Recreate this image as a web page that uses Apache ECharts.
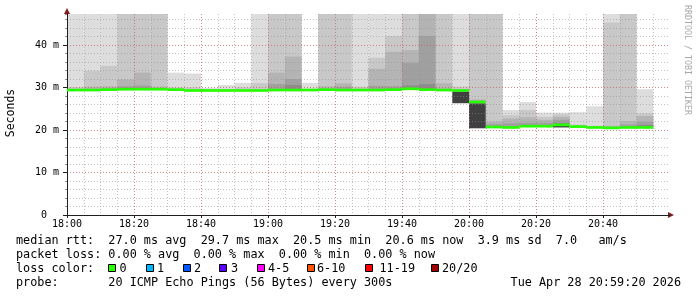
<!DOCTYPE html>
<html>
<head>
<meta charset="utf-8">
<script src="https://cdn.jsdelivr.net/npm/echarts@6/dist/echarts.min.js"></script>
<style>
html,body{margin:0;padding:0;background:#fff;}
#chart{width:697px;height:297px;}
</style>
</head>
<body>
<div id="chart"></div>
<script>
// ---- data ----
const barStart = ['18:00','18:05','18:10','18:15','18:20','18:25','18:30','18:35','18:40','18:45','18:50','18:55',
                  '19:00','19:05','19:10','19:15','19:20','19:25','19:30','19:35','19:40','19:45','19:50','19:55',
                  '20:00','20:05','20:10','20:15','20:20','20:25','20:30','20:35','20:40','20:45','20:50'];
const stepMin = 5;
// median rtt (ms)
const median = [29.4,29.4,29.5,29.6,29.6,29.6,29.5,29.3,29.3,29.3,29.3,29.3,
                29.4,29.4,29.4,29.5,29.4,29.4,29.4,29.5,29.7,29.5,29.4,29.3,
                26.6,20.7,20.6,20.9,20.9,21.2,20.8,20.6,20.5,20.6,20.6];
// smoke layers: upper edge (ms) of each grey band, lightest first
const smoke1 = [47.3,47.3,47.3,47.3,47.3,47.3,33.5,33.3,29.9,30.6,31.1,47.3,
                47.3,47.3,31.1,47.3,47.3,47.3,47.3,47.3,47.3,47.3,47.3,47.3,
                47.3,47.3,24.7,26.6,24.1,24.1,24.2,25.6,47.3,47.3,29.6];
const smoke2 = [30.1,33.9,35.1,47.3,47.3,47.3,30.0,30.0,null,null,30.0,31.0,
                47.3,47.3,null,47.3,47.3,30.2,37.0,42.1,47.3,47.3,47.3,30.2,
                47.3,47.3,23.5,24.7,23.1,23.7,21.3,21.0,45.3,47.3,23.9];
const smoke3 = [null,30.2,30.3,31.9,33.5,30.2,null,null,null,null,null,null,
                33.5,37.3,null,30.3,31.0,null,34.4,38.4,38.8,47.3,31.0,null,
                27.2,22.0,22.7,23.0,22.4,23.1,null,null,21.0,22.1,23.3];
const smoke4 = [null,null,null,30.3,30.5,null,null,null,null,null,null,null,
                30.8,32.0,null,null,30.2,null,30.4,30.3,35.8,42.1,null,null,
                null,21.4,21.6,21.7,21.7,22.4,null,null,null,21.3,21.9];
const smoke5 = [null,null,null,null,null,null,null,null,null,null,null,null,
                null,30.6,null,null,null,null,null,null,30.5,30.8,null,null,
                null,null,null,null,null,21.7,null,null,null,null,21.2];
// dense smoke below the median (ms): lower / upper edge
const denseLo = [null,null,null,null,null,null,null,null,null,null,null,null,
                 null,null,null,null,null,null,null,null,null,null,null,26.3,
                 20.4,null,null,null,null,20.6,null,null,null,null,null];
const denseHi = [null,null,null,null,null,null,null,null,null,null,null,null,
                 null,null,null,null,null,null,null,null,null,null,null,29.1,
                 26.3,null,null,null,null,21.0,null,null,null,null,null];

const xTickLabels = ['18:00','18:20','18:40','19:00','19:20','19:40','20:00','20:20','20:40'];
const yTickLabels = ['0  ','10 m','20 m','30 m','40 m'];
const yMax = 47.3;
const xMax = 180;

const lossLabels = ['0','1','2','3','4-5','6-10','11-19','20/20'];
const lossColors = ['#26ff00','#00b8ff','#0059ff','#5e00ff','#ff00ff','#ff5500','#ff0000','#a10000'];

// ---- build ----
function toMin(s){ const p = s.split(':'); return (+p[0])*60 + (+p[1]) - 18*60; }
const starts = barStart.map(toMin);

function bandData(tops){
  const out = [];
  tops.forEach((t,i)=>{ if(t!=null && t>median[i]) out.push([starts[i], starts[i]+stepMin, median[i], t]); });
  return out;
}
function denseData(){
  const out = [];
  denseLo.forEach((lo,i)=>{ if(lo!=null) out.push([starts[i], starts[i]+stepMin, lo, denseHi[i]]); });
  return out;
}
function rectRender(color){
  return function(params, api){
    const a = api.coord([api.value(0), api.value(3)]);
    const b = api.coord([api.value(1), api.value(2)]);
    return {type:'rect', shape:{x:a[0], y:a[1], width:b[0]-a[0], height:b[1]-a[1]}, style:{fill:color}};
  };
}
function smokeSeries(tops, color){
  return {type:'custom', xAxisIndex:1, yAxisIndex:1, z:2, silent:true,
          renderItem: rectRender(color), encode:{x:[0,1], y:[2,3]}, data: bandData(tops)};
}

const mono = '"DejaVu Sans Mono", monospace';
const minorGrid = 'rgba(143,143,143,0.55)';
const majorGrid = 'rgba(222,79,79,0.5)';

const series = [
  smokeSeries(smoke1, '#dddddd'),
  smokeSeries(smoke2, '#c8c8c8'),
  smokeSeries(smoke3, '#b4b4b4'),
  smokeSeries(smoke4, '#a0a0a0'),
  smokeSeries(smoke5, '#8c8c8c'),
  {type:'custom', xAxisIndex:1, yAxisIndex:1, z:2, silent:true,
   renderItem: rectRender('#404040'), encode:{x:[0,1], y:[2,3]}, data: denseData()},
  {type:'custom', xAxisIndex:1, yAxisIndex:1, z:10, silent:true,
   encode:{x:[0,1], y:2},
   data: median.map((m,i)=>[starts[i], starts[i]+stepMin, m]),
   renderItem: function(params, api){
     const a = api.coord([api.value(0), api.value(2)]);
     const b = api.coord([api.value(1), api.value(2)]);
     return {type:'rect', shape:{x:a[0], y:a[1]-1.35, width:b[0]-a[0], height:2.7}, style:{fill:lossColors[0]}};
   }}
];

const hidden = {show:false};
const option = {
  animation:false,
  backgroundColor:'#ffffff',
  grid:{left:67, top:14, width:603, height:201},
  xAxis:[
    {type:'value', min:0, max:xMax, interval:5, position:'top', z:5,
     axisLine:hidden, axisTick:hidden, axisLabel:hidden,
     splitLine:{show:true, showMinLine:false, showMaxLine:false, lineStyle:{color:minorGrid, width:1, type:[1,2]}}},
    {type:'value', min:0, max:xMax, interval:20, position:'bottom', z:7,
     axisLine:{show:true, onZero:false, lineStyle:{color:'#1f1f1f', width:1}},
     axisTick:{show:true, length:3, lineStyle:{color:'#1f1f1f'}},
     axisLabel:{show:true, margin:4, color:'#000', fontFamily:mono, fontSize:10, showMaxLabel:false,
                formatter:(v)=> xTickLabels[Math.round(v/20)] || ''},
     splitLine:{show:true, showMinLine:false, showMaxLine:false, lineStyle:{color:majorGrid, width:1, type:[1,2]}}},
    {type:'value', min:0, max:xMax, position:'bottom', z:6,
     axisLine:{show:true, onZero:false, symbol:['none','triangle'], symbolSize:[6,6], symbolOffset:[0,1],
               lineStyle:{color:'#801f1f', width:1}},
     axisTick:hidden, axisLabel:hidden, splitLine:hidden}
  ],
  yAxis:[
    {type:'value', min:0, max:yMax, interval:2, position:'left', z:5,
     axisLine:hidden, axisLabel:hidden,
     axisTick:{show:true, length:2, lineStyle:{color:'#8f8f8f'}},
     splitLine:{show:true, showMinLine:false, showMaxLine:false, lineStyle:{color:minorGrid, width:1, type:[1,2]}}},
    {type:'value', min:0, max:yMax, interval:10, position:'left', z:7,
     axisLine:{show:true, onZero:false, lineStyle:{color:'#1f1f1f', width:1}},
     axisTick:{show:true, length:4, lineStyle:{color:'#1f1f1f'}},
     axisLabel:{show:true, margin:8, color:'#000', fontFamily:mono, fontSize:10, showMaxLabel:false,
                formatter:(v)=> yTickLabels[Math.round(v/10)] || ''},
     splitLine:{show:true, showMinLine:false, showMaxLine:false, lineStyle:{color:majorGrid, width:1, type:[1,2]}}},
    {type:'value', min:0, max:yMax, position:'left', z:6,
     axisLine:{show:true, onZero:false, symbol:['none','triangle'], symbolSize:[6,6], symbolOffset:[0,3],
               lineStyle:{color:'#801f1f', width:1}},
     axisTick:hidden, axisLabel:hidden, splitLine:hidden}
  ],
  series: series,
  graphic: []
};

// ---- texts ----
const F = '11.8px ' + mono;
function txt(x, y, s, extra){
  return Object.assign({type:'text', x:x, y:y, silent:true,
    style:Object.assign({text:s, font:F, fill:'#000', textAlign:'left', textVerticalAlign:'middle', align:'left', verticalAlign:'middle'}, extra||{})});
}
const g = option.graphic;
g.push(txt(16, 241, 'median rtt:  27.0 ms avg  29.7 ms max  20.5 ms min  20.6 ms now  3.9 ms sd  7.0   am/s'));
g.push(txt(16, 255, 'packet loss: 0.00 % avg  0.00 % max  0.00 % min  0.00 % now'));
g.push(txt(16, 268.5, 'loss color:'));
const boxX = [108,146,183,219,257,307,365,431];
const labX = [119.5,157,194,231,268,317,379.5,442];
lossLabels.forEach((l,i)=>{
  g.push({type:'rect', silent:true, shape:{x:boxX[i]+0.5, y:264.5, width:7, height:7},
          style:{fill:lossColors[i], stroke:'#000', lineWidth:1}});
  g.push(txt(labX[i], 268.5, l));
});
g.push(txt(16, 283, 'probe:       20 ICMP Echo Pings (56 Bytes) every 300s'));
g.push(txt(681, 283, 'Tue Apr 28 20:59:20 2026', {textAlign:'right', align:'right'}));
g.push(Object.assign(txt(11, 113, 'Seconds', {textAlign:'center', align:'center', font:'11.5px ' + mono}), {rotation:Math.PI/2}));
g.push(Object.assign(txt(687.5, 60, 'RRDTOOL / TOBI OETIKER', {textAlign:'center', align:'center', font:'8.3px ' + mono, fill:'#a8a8a8'}), {rotation:-Math.PI/2}));

const chart = echarts.init(document.getElementById('chart'), null, {renderer:'canvas'});
chart.setOption(option);
</script>
</body>
</html>
